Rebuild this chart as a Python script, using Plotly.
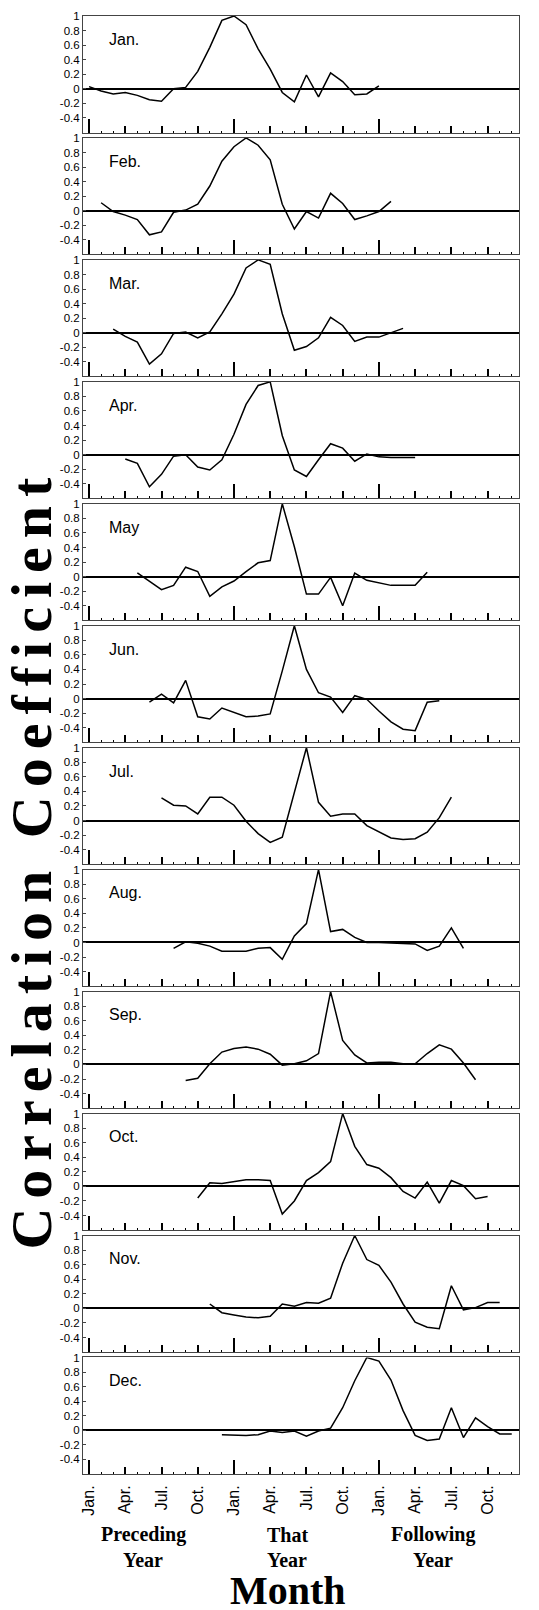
import plotly.graph_objects as go

# ---------------- data ----------------
# month index: 0 = Jan. of preceding year, 12 = Jan. of that year, 24 = Jan. of following year
panel_names = ["Jan.", "Feb.", "Mar.", "Apr.", "May", "Jun.",
               "Jul.", "Aug.", "Sep.", "Oct.", "Nov.", "Dec."]
tick_vals = [0, 3, 6, 9, 12, 15, 18, 21, 24, 27, 30, 33]
tick_text = ["Jan.", "Apr.", "Jul.", "Oct."] * 3
jan_tick_vals = [0, 12, 24]
y_tick_vals = [-0.4, -0.2, 0, 0.2, 0.4, 0.6, 0.8, 1]
y_tick_text = ["-0.4", "-0.2", "0", "0.2", "0.4", "0.6", "0.8", "1"]
group_labels = [("Preceding", "Year"), ("That", "Year"), ("Following", "Year")]

# 25 correlation values per panel, lag -12 ... +12 months (starting at month index = panel index)
r_jan = [0.03, -0.03, -0.07, -0.05, -0.09, -0.15, -0.17, 0.0, 0.02, 0.24, 0.57, 0.94, 1.0,
         0.88, 0.55, 0.27, -0.05, -0.18, 0.19, -0.11, 0.22, 0.10, -0.08, -0.07, 0.04]
r_feb = [0.11, -0.01, -0.06, -0.12, -0.33, -0.29, -0.02, 0.01, 0.09, 0.34, 0.68, 0.88, 1.0,
         0.90, 0.70, 0.09, -0.25, -0.01, -0.10, 0.24, 0.10, -0.12, -0.07, -0.01, 0.13]
r_mar = [0.05, -0.05, -0.13, -0.43, -0.29, -0.01, 0.01, -0.07, 0.01, 0.26, 0.53, 0.89, 1.0,
         0.94, 0.26, -0.24, -0.19, -0.07, 0.21, 0.10, -0.12, -0.06, -0.06, 0.0, 0.06]
r_apr = [-0.06, -0.12, -0.44, -0.27, -0.02, 0.0, -0.17, -0.21, -0.07, 0.28, 0.69, 0.95, 1.0,
         0.26, -0.21, -0.30, -0.07, 0.15, 0.09, -0.09, 0.01, -0.03, -0.04, -0.04, -0.04]
r_may = [0.05, -0.06, -0.18, -0.12, 0.13, 0.07, -0.27, -0.14, -0.06, 0.07, 0.19, 0.22, 1.0,
         0.41, -0.24, -0.24, -0.01, -0.40, 0.05, -0.05, -0.09, -0.12, -0.12, -0.12, 0.06]
r_jun = [-0.05, 0.06, -0.06, 0.25, -0.25, -0.28, -0.13, -0.19, -0.25, -0.24, -0.21, 0.38, 1.0,
         0.40, 0.08, 0.02, -0.19, 0.04, -0.01, -0.17, -0.32, -0.42, -0.44, -0.05, -0.03]
r_jul = [0.31, 0.21, 0.20, 0.09, 0.32, 0.32, 0.21, -0.01, -0.18, -0.30, -0.23, 0.39, 1.0,
         0.25, 0.06, 0.09, 0.09, -0.07, -0.15, -0.24, -0.26, -0.25, -0.16, 0.04, 0.32]
r_aug = [-0.08, 0.01, -0.01, -0.05, -0.12, -0.12, -0.12, -0.08, -0.07, -0.23, 0.09, 0.26, 1.0,
         0.15, 0.18, 0.07, 0.0, 0.0, -0.01, -0.02, -0.02, -0.11, -0.05, 0.20, -0.08]
r_sep = [-0.22, -0.19, 0.01, 0.17, 0.22, 0.24, 0.21, 0.14, -0.01, 0.01, 0.05, 0.15, 1.0,
         0.33, 0.13, 0.02, 0.03, 0.03, 0.01, 0.01, 0.15, 0.27, 0.21, 0.02, -0.21]
r_oct = [-0.16, 0.05, 0.04, 0.07, 0.09, 0.09, 0.08, -0.38, -0.20, 0.08, 0.19, 0.34, 1.0,
         0.55, 0.30, 0.25, 0.12, -0.07, -0.16, 0.06, -0.23, 0.08, 0.01, -0.17, -0.14]
r_nov = [0.06, -0.06, -0.09, -0.12, -0.13, -0.11, 0.06, 0.03, 0.08, 0.07, 0.14, 0.62, 1.0,
         0.67, 0.59, 0.36, 0.06, -0.19, -0.26, -0.28, 0.31, -0.02, 0.01, 0.08, 0.08]
r_dec = [-0.06, -0.07, -0.07, -0.06, -0.01, -0.03, -0.01, -0.08, -0.01, 0.03, 0.31, 0.68, 1.0,
         0.95, 0.69, 0.27, -0.07, -0.14, -0.12, 0.31, -0.10, 0.17, 0.05, -0.05, -0.05]

series = [r_jan, r_feb, r_mar, r_apr, r_may, r_jun, r_jul, r_aug, r_sep, r_oct, r_nov, r_dec]

# ---------------- layout geometry ----------------
W, H = 539, 1610
L, R, T, B = 83, 20, 10, 136
plot_w = W - L - R
plot_h = H - T - B
panel_h = 117
step = (plot_h - panel_h) / 11

def px_x(px):
    return (px - L) / plot_w

def px_y(py):
    return (H - B - py) / plot_h

serif = "Liberation Serif, Times New Roman, serif"
sans = "Liberation Sans, Arial, sans-serif"

fig = go.Figure()
layout = dict(
    width=W, height=H,
    margin=dict(l=L, r=R, t=T, b=B, pad=0),
    paper_bgcolor="white", plot_bgcolor="white",
    showlegend=False,
    font=dict(family=sans, color="black"),
)
annotations = []

for k in range(12):
    n = k + 1
    xs = list(range(k, k + 25))
    top = k * step
    dom = [1 - (top + panel_h) / plot_h, 1 - top / plot_h]
    xname = "x" if n == 1 else f"x{n}"
    yname = "y" if n == 1 else f"y{n}"
    ov = 12 + n

    fig.add_trace(go.Scatter(x=xs, y=series[k], mode="lines",
                             line=dict(color="black", width=1.5),
                             xaxis=xname, yaxis=yname, hoverinfo="skip"))
    # invisible copy on the overlay axis so its Jan. ticks are drawn
    fig.add_trace(go.Scatter(x=xs, y=series[k], mode="lines",
                             line=dict(color="rgba(0,0,0,0)", width=0),
                             xaxis=f"x{ov}", yaxis=yname, hoverinfo="skip"))

    last = (k == 11)
    layout[f"xaxis{n}"] = dict(
        domain=[0, 1], anchor=yname, range=[-0.5, 35.6],
        showline=True, linecolor="#444", linewidth=1, mirror=True,
        showgrid=False, zeroline=False,
        tickmode="array", tickvals=tick_vals, ticktext=tick_text,
        ticks="inside", ticklen=7, tickwidth=1.6, tickcolor="black",
        minor=dict(ticks="inside", ticklen=2, tickwidth=1, tickcolor="black",
                   tickmode="linear", tick0=0, dtick=1, showgrid=False),
        showticklabels=last, tickangle=-90, ticklabelstandoff=4,
        tickfont=dict(family=sans, size=16, color="black"),
    )
    layout[f"xaxis{ov}"] = dict(
        overlaying=xname, anchor=yname, side="bottom", range=[-0.5, 35.6],
        showline=False, showgrid=False, zeroline=False,
        tickmode="array", tickvals=jan_tick_vals,
        ticks="inside", ticklen=14, tickwidth=2, tickcolor="black",
        showticklabels=False,
    )
    layout[f"yaxis{n}"] = dict(
        domain=dom, anchor=xname, range=[-0.6, 1.0],
        showline=True, linecolor="#444", linewidth=1, mirror=True,
        showgrid=False,
        zeroline=True, zerolinecolor="black", zerolinewidth=1.5,
        tickmode="array", tickvals=y_tick_vals, ticktext=y_tick_text,
        ticks="inside", ticklen=3, tickwidth=1, tickcolor="#444",
        tickfont=dict(family=sans, size=11.5, color="black"),
    )
    annotations.append(dict(
        text=panel_names[k], xref=f"{xname} domain", yref=f"{yname} domain",
        x=0.055, y=0.80, xanchor="left", yanchor="middle", showarrow=False,
        font=dict(family=sans, size=16, color="black"),
    ))

# axis titles / group labels
annotations.append(dict(
    text='<span style="letter-spacing:9px">Correlation Coefficient</span>',
    xref="paper", yref="paper", x=px_x(32), y=px_y(857),
    xanchor="center", yanchor="middle", textangle=-90, showarrow=False,
    font=dict(family=serif, size=58, color="black", weight="bold"),
))
for (line1, line2), cx in zip(group_labels, [143, 287, 433]):
    annotations.append(dict(
        text=line1, xref="paper", yref="paper", x=px_x(cx), y=px_y(1535),
        xanchor="center", yanchor="middle", showarrow=False,
        font=dict(family=serif, size=20, color="black", weight="bold"),
    ))
    annotations.append(dict(
        text=line2, xref="paper", yref="paper", x=px_x(cx), y=px_y(1560),
        xanchor="center", yanchor="middle", showarrow=False,
        font=dict(family=serif, size=20, color="black", weight="bold"),
    ))
annotations.append(dict(
    text="Month", xref="paper", yref="paper", x=px_x(288), y=px_y(1591),
    xanchor="center", yanchor="middle", showarrow=False,
    font=dict(family=serif, size=40, color="black", weight="bold"),
))

layout["annotations"] = annotations
fig.update_layout(**layout)
fig.write_html("out.html")
